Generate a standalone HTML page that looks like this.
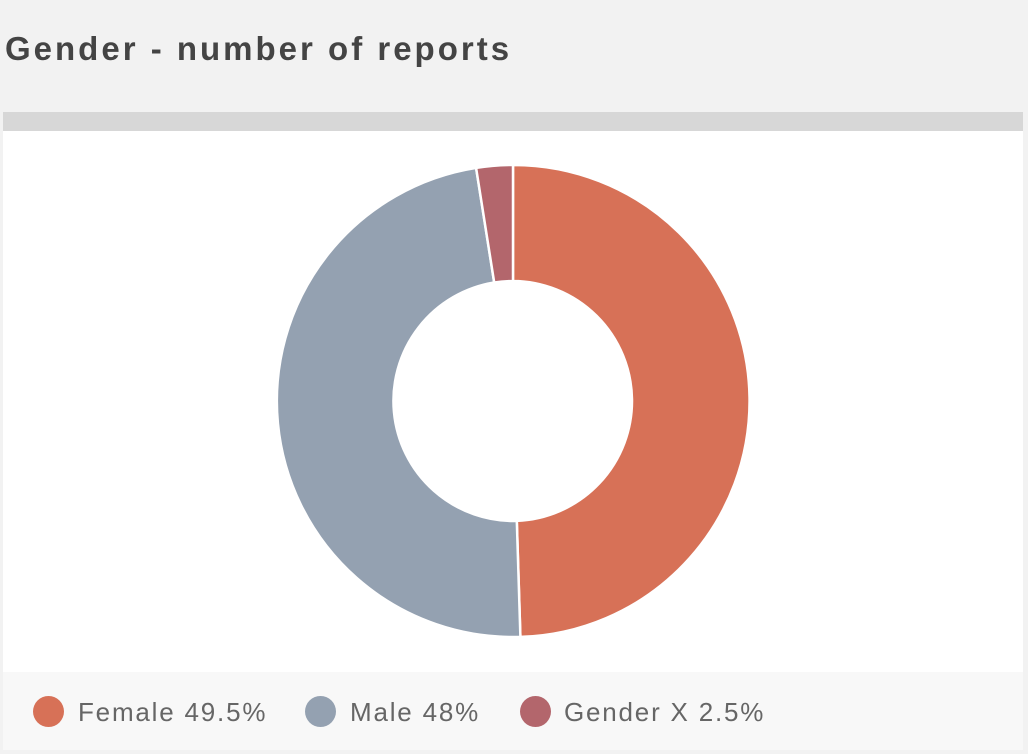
<!DOCTYPE html>
<html><head><style>
html,body{margin:0;padding:0;width:1028px;height:754px;background:#f2f2f2;overflow:hidden;font-family:"Liberation Sans",sans-serif}
.t{position:absolute;left:5px;top:30px;font-size:33px;font-weight:bold;color:#444;letter-spacing:3px}
.bar{position:absolute;left:3px;top:112px;width:1020px;height:19px;background:#d7d7d7}
.panel{position:absolute;left:3px;top:131px;width:1020px;height:541px;background:#fff}
.leg{position:absolute;left:3px;top:672px;width:1020px;height:78px;background:#f8f8f8}
.it{position:absolute;top:696px;font-size:26px;color:#666;line-height:32px;letter-spacing:1.8px}
.d{position:absolute;top:696px;width:31px;height:31px;border-radius:50%}
</style></head><body>
<div class="t">Gender - number of reports</div>
<div class="bar"></div><div class="panel"></div><div class="leg"></div>
<svg style="position:absolute;left:0;top:0" width="1028" height="754">
<g stroke="#fff" stroke-width="2.5" stroke-linejoin="round">
<path d="M513,165 A236,236 0 0 1 520.4,636.9 L516.8,520.9 A120,120 0 0 0 513,281 Z" fill="#d77157"/>
<path d="M520.4,636.9 A236,236 0 0 1 476.1,167.9 L494.2,282.5 A120,120 0 0 0 516.8,520.9 Z" fill="#94a1b1"/>
<path d="M476.1,167.9 A236,236 0 0 1 513,165 L513,281 A120,120 0 0 0 494.2,282.5 Z" fill="#b3666c"/>
</g></svg>
<div class="d" style="left:33px;background:#d77157"></div><div class="it" style="left:78px">Female 49.5%</div>
<div class="d" style="left:305px;background:#94a1b1"></div><div class="it" style="left:350px">Male 48%</div>
<div class="d" style="left:520px;background:#b3666c"></div><div class="it" style="left:564px">Gender X 2.5%</div>
</body></html>
